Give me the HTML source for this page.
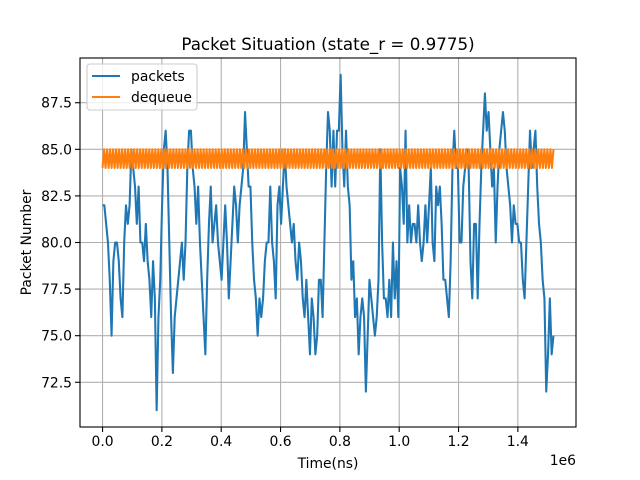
<!DOCTYPE html>
<html><head><meta charset="utf-8"><style>
body{margin:0;background:#fff}
svg{display:block;font-family:"DejaVu Sans","Liberation Sans",sans-serif}
</style></head><body>
<svg id="c" width="640" height="480" viewBox="0 0 640 480"></svg>
<script>
const packets=[82,82,81,80,78,75,79,80,80,79,77,76,80,82,81,82,85,84,83,81,83,80,80,79,81,79,78,76,79,77,71,76,78,82,85,86,84,80,76,73,76,77,78,79,80,78,80,84,86,86,84,83,81,83,80,78,76,74,78,81,83,80,81,82,80,79,78,80,82,80,77,79,81,83,82,80,82,83,84,87,
85,83,83,80,78,77,75,77,76,77,79,80,80,83,80,79,77,82,83,81,83,85,83,82,81,80,81,79,78,80,79,77,76,78,76,74,77,76,74,75,78,78,76,80,84,87,86,83,86,83,86,86,89,85,83,86,83,82,78,79,76,77,74,76,77,76,72,75,78,77,76,75,76,78,85,80,77,77,76,78,76,80,77,79,76,84,83,81,86,80,82,80,
81,81,80,82,80,79,80,82,80,82,84,80,79,83,82,83,81,78,78,77,76,79,84,86,84,84,80,80,83,84,85,84,79,77,81,81,77,81,84,86,88,86,87,85,83,84,80,83,85,86,87,86,84,83,82,80,82,81,81,80,80,78,77,80,83,86,84,85,86,83,81,80,78,77,72,74,77,74,75];
const dequeue=[];
const dqPattern=[84,85];
const tEnd=1.52e6;
const xTicks=[0,0.2e6,0.4e6,0.6e6,0.8e6,1.0e6,1.2e6,1.4e6];
const xTickLabels=["0.0","0.2","0.4","0.6","0.8","1.0","1.2","1.4"];
const yTicks=[72.5,75,77.5,80,82.5,85,87.5];
const yTickLabels=["72.5","75.0","77.5","80.0","82.5","85.0","87.5"];
for(let i=0;i<300;i++)dequeue.push(dqPattern[i%2]);

const L=80,T=58,W=496,H=369;
const xMin=-0.076e6,xMax=1.596e6,yMin=70.1,yMax=89.9;
const X=v=>L+(v-xMin)/(xMax-xMin)*W;
const Y=v=>T+H-(v-yMin)/(yMax-yMin)*H;
const svg=document.getElementById('c');
const NS='http://www.w3.org/2000/svg';
function mk(tag,attrs,parent){const e=document.createElementNS(NS,tag);for(const k in attrs)e.setAttribute(k,attrs[k]);(parent||svg).appendChild(e);return e;}

const grid=mk('g',{});


xTicks.forEach((t,i)=>{
  const x=X(t);
  mk('line',{x1:x,x2:x,y1:T,y2:T+H,stroke:'#b0b0b0','stroke-width':1.1},grid);
  mk('line',{x1:x,x2:x,y1:T+H,y2:T+H+5,stroke:'#000','stroke-width':1.1});
  const tx=mk('text',{x:x,y:T+H+19,'font-size':13.9,'text-anchor':'middle',fill:'#000'});
  tx.textContent=xTickLabels[i];
  
  
});
yTicks.forEach((t,i)=>{
  const y=Y(t);
  mk('line',{x1:L,x2:L+W,y1:y,y2:y,stroke:'#b0b0b0','stroke-width':1.1},grid);
  mk('line',{x1:L-5,x2:L,y1:y,y2:y,stroke:'#000','stroke-width':1.1});
  const tx=mk('text',{x:L-8,y:y+5,'font-size':13.9,'text-anchor':'end',fill:'#000'});
  tx.textContent=yTickLabels[i];
  
  
});

function path(vals,color,name){
  const step=tEnd/(vals.length-1);
  const d=vals.map((v,i)=>(i?'L':'M')+X(i*step).toFixed(2)+','+Y(v).toFixed(2)).join('');
  const p=mk('path',{d:d,fill:'none',stroke:color,'stroke-width':2.08,'stroke-linejoin':'round'});
  
  
}
path(packets,'#1f77b4','packets-line');
path(dequeue,'#ff7f0e','dequeue-line');

const fr=mk('rect',{x:L,y:T,width:W,height:H,fill:'none',stroke:'#000','stroke-width':1.1});



const title=mk('text',{x:L+W/2,y:T-8,'font-size':16.7,'text-anchor':'middle',fill:'#000'});
title.textContent='Packet Situation (state_r = 0.9775)';


const xl=mk('text',{x:L+W/2,y:468,'font-size':13.9,'text-anchor':'middle',fill:'#000'});
xl.textContent='Time(ns)';


const off=mk('text',{x:576,y:465,'font-size':13.9,'text-anchor':'end',fill:'#000'});
off.textContent='1e6';


const yl=mk('text',{x:0,y:0,'font-size':13.9,'text-anchor':'middle',fill:'#000',transform:'translate(31,'+(T+H/2)+') rotate(-90)'});
yl.textContent='Packet Number';



const lg=mk('g',{});


mk('rect',{x:87,y:64,width:110,height:46,rx:3,fill:'#fff','fill-opacity':0.8,stroke:'#ccc','stroke-width':1.1},lg);
[['packets','#1f77b4'],['dequeue','#ff7f0e']].forEach((e,i)=>{
  const y=76+i*21;
  mk('line',{x1:92,x2:120,y1:y,y2:y,stroke:e[1],'stroke-width':2.08},lg);
  const t=mk('text',{x:131,y:y+5,'font-size':13.9,fill:'#000'},lg);
  t.textContent=e[0];
  
  
});
</script>
</body></html>
